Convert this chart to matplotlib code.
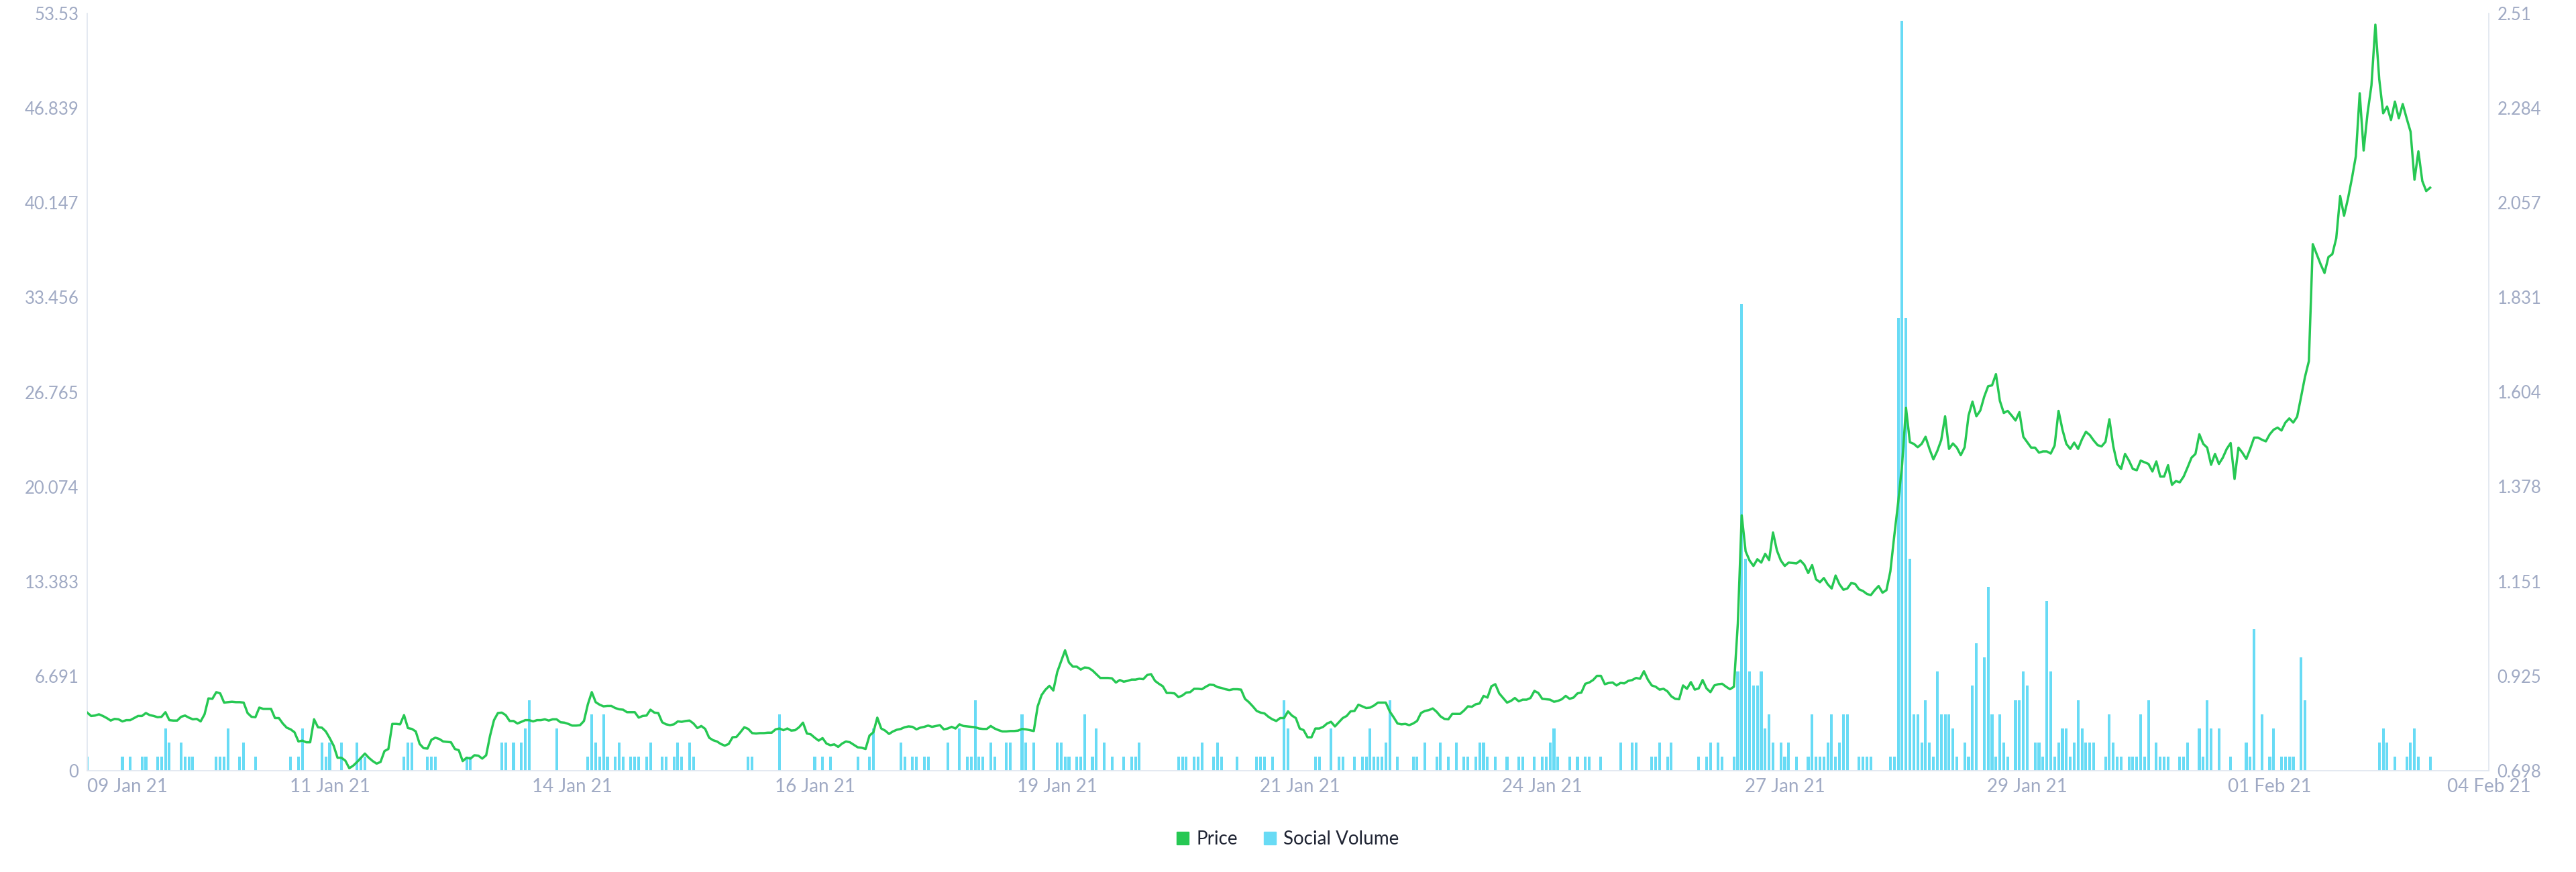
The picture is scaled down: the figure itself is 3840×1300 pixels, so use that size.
import matplotlib
matplotlib.use('Agg')
import matplotlib.pyplot as plt
import matplotlib.transforms as mtransforms
from matplotlib.patches import Patch
import numpy as np

# hourly price, starting 09 Jan 21 00:00
price = [
    0.837, 0.829, 0.830, 0.833, 0.829, 0.824, 0.818, 0.822, 0.821, 0.816, 0.819, 0.819, 0.824, 0.829, 0.829, 0.836, 0.831, 0.829, 0.826, 0.827,
    0.838, 0.819, 0.818, 0.818, 0.827, 0.830, 0.825, 0.821, 0.822, 0.816, 0.833, 0.871, 0.870, 0.886, 0.883, 0.861, 0.862, 0.863, 0.862, 0.862,
    0.861, 0.836, 0.827, 0.826, 0.849, 0.846, 0.846, 0.846, 0.824, 0.824, 0.811, 0.801, 0.797, 0.790, 0.768, 0.770, 0.766, 0.766, 0.821, 0.802,
    0.801, 0.792, 0.776, 0.758, 0.729, 0.729, 0.722, 0.704, 0.710, 0.719, 0.729, 0.739, 0.729, 0.721, 0.715, 0.719, 0.745, 0.750, 0.810, 0.810,
    0.809, 0.831, 0.800, 0.798, 0.792, 0.762, 0.752, 0.751, 0.772, 0.777, 0.774, 0.768, 0.767, 0.766, 0.750, 0.747, 0.721, 0.729, 0.727, 0.735,
    0.734, 0.727, 0.735, 0.782, 0.819, 0.836, 0.837, 0.831, 0.817, 0.817, 0.811, 0.815, 0.819, 0.819, 0.816, 0.819, 0.819, 0.821, 0.818, 0.821,
    0.821, 0.814, 0.813, 0.810, 0.806, 0.806, 0.807, 0.817, 0.857, 0.886, 0.862, 0.856, 0.852, 0.853, 0.853, 0.848, 0.845, 0.844, 0.838, 0.838,
    0.838, 0.825, 0.829, 0.830, 0.844, 0.837, 0.836, 0.814, 0.809, 0.807, 0.809, 0.816, 0.815, 0.817, 0.818, 0.811, 0.800, 0.805, 0.798, 0.777,
    0.771, 0.768, 0.762, 0.758, 0.762, 0.778, 0.779, 0.790, 0.802, 0.798, 0.788, 0.787, 0.788, 0.788, 0.789, 0.789, 0.797, 0.799, 0.795, 0.799,
    0.794, 0.795, 0.802, 0.813, 0.787, 0.785, 0.777, 0.770, 0.776, 0.763, 0.759, 0.761, 0.755, 0.763, 0.768, 0.766, 0.760, 0.754, 0.753, 0.750,
    0.782, 0.790, 0.825, 0.799, 0.794, 0.786, 0.792, 0.796, 0.798, 0.802, 0.804, 0.803, 0.797, 0.801, 0.803, 0.806, 0.803, 0.805, 0.807, 0.797,
    0.799, 0.803, 0.799, 0.809, 0.805, 0.804, 0.803, 0.802, 0.799, 0.798, 0.798, 0.805, 0.799, 0.795, 0.792, 0.792, 0.793, 0.793, 0.794, 0.798,
    0.797, 0.795, 0.793, 0.852, 0.879, 0.892, 0.901, 0.890, 0.934, 0.960, 0.986, 0.957, 0.947, 0.947, 0.940, 0.945, 0.944, 0.938, 0.929, 0.920,
    0.920, 0.920, 0.919, 0.909, 0.915, 0.911, 0.913, 0.916, 0.916, 0.918, 0.917, 0.927, 0.929, 0.913, 0.906, 0.900, 0.884, 0.884, 0.883, 0.874,
    0.878, 0.885, 0.886, 0.894, 0.894, 0.893, 0.899, 0.904, 0.903, 0.898, 0.896, 0.893, 0.891, 0.893, 0.893, 0.892, 0.870, 0.862, 0.852, 0.841,
    0.837, 0.835, 0.827, 0.821, 0.817, 0.824, 0.824, 0.840, 0.830, 0.824, 0.799, 0.795, 0.778, 0.778, 0.799, 0.799, 0.803, 0.811, 0.815, 0.804,
    0.814, 0.824, 0.829, 0.840, 0.841, 0.856, 0.852, 0.848, 0.849, 0.854, 0.861, 0.861, 0.861, 0.840, 0.826, 0.811, 0.809, 0.810, 0.807, 0.811,
    0.817, 0.836, 0.841, 0.843, 0.847, 0.839, 0.828, 0.822, 0.821, 0.834, 0.834, 0.834, 0.842, 0.852, 0.851, 0.857, 0.859, 0.877, 0.873, 0.900,
    0.905, 0.883, 0.872, 0.861, 0.865, 0.872, 0.864, 0.868, 0.868, 0.872, 0.889, 0.884, 0.870, 0.869, 0.868, 0.863, 0.865, 0.869, 0.877, 0.870,
    0.873, 0.883, 0.885, 0.906, 0.909, 0.915, 0.925, 0.925, 0.905, 0.908, 0.909, 0.902, 0.908, 0.907, 0.913, 0.915, 0.920, 0.918, 0.936, 0.916,
    0.902, 0.899, 0.892, 0.894, 0.888, 0.876, 0.870, 0.869, 0.902, 0.894, 0.910, 0.892, 0.895, 0.915, 0.895, 0.886, 0.902, 0.905, 0.906, 0.899,
    0.893, 0.899, 1.050, 1.309, 1.223, 1.201, 1.188, 1.204, 1.196, 1.217, 1.202, 1.268, 1.225, 1.201, 1.188, 1.196, 1.195, 1.194, 1.201, 1.191,
    1.171, 1.190, 1.156, 1.149, 1.159, 1.144, 1.134, 1.165, 1.144, 1.131, 1.134, 1.147, 1.145, 1.132, 1.128, 1.121, 1.118, 1.130, 1.140, 1.124,
    1.130, 1.175, 1.260, 1.340, 1.430, 1.566, 1.484, 1.480, 1.472, 1.480, 1.497, 1.468, 1.443, 1.463, 1.489, 1.546, 1.468, 1.481, 1.471, 1.453,
    1.472, 1.548, 1.581, 1.546, 1.560, 1.593, 1.618, 1.620, 1.647, 1.583, 1.554, 1.559, 1.548, 1.536, 1.556, 1.497, 1.484, 1.471, 1.471, 1.459,
    1.462, 1.462, 1.457, 1.476, 1.559, 1.514, 1.480, 1.468, 1.483, 1.468, 1.491, 1.509, 1.501, 1.488, 1.477, 1.474, 1.485, 1.539, 1.474, 1.432,
    1.420, 1.456, 1.440, 1.420, 1.417, 1.440, 1.436, 1.432, 1.414, 1.438, 1.402, 1.402, 1.429, 1.382, 1.391, 1.388, 1.402, 1.424, 1.447, 1.456,
    1.503, 1.480, 1.471, 1.430, 1.456, 1.432, 1.447, 1.468, 1.482, 1.396, 1.471, 1.459, 1.444, 1.468, 1.495, 1.495, 1.490, 1.486, 1.503, 1.514,
    1.519, 1.512, 1.531, 1.541, 1.531, 1.545, 1.592, 1.640, 1.678, 1.958, 1.934, 1.910, 1.889, 1.927, 1.934, 1.972, 2.073, 2.026, 2.067, 2.115,
    2.168, 2.319, 2.182, 2.271, 2.338, 2.483, 2.352, 2.271, 2.287, 2.255, 2.299, 2.259, 2.293, 2.259, 2.227, 2.112, 2.180, 2.109, 2.085, 2.093,
]

# social volume, only the hours with a non-zero count
volume_hours = [
    0, 9, 11, 14, 15, 18, 19, 20, 21, 24, 25, 26, 27, 33, 34, 35, 36, 39, 40, 43, 52, 54, 55, 60, 61, 62, 65, 69, 70, 71,
    81, 82, 83, 87, 88, 89, 97, 98, 106, 107, 109, 111, 112, 113, 120, 128, 129, 130, 131, 132, 133, 135, 136, 137, 139,
    140, 141, 143, 144, 147, 148, 150, 151, 152, 154, 155, 169, 170, 177, 186, 188, 190, 197, 200, 201, 208, 209, 211, 212,
    214, 215, 220, 223, 225, 226, 227, 228, 229, 231, 232, 235, 236, 239, 240, 242, 248, 249, 250, 251, 253, 254, 255, 257,
    258, 260, 262, 265, 267, 268, 269, 279, 280, 281, 283, 284, 285, 288, 289, 290, 294, 299, 300, 301, 303, 306, 307, 314,
    315, 318, 320, 321, 324, 326, 327, 328, 329, 330, 331, 332, 333, 335, 339, 340, 342, 345, 346, 348, 350, 352, 353, 355,
    356, 357, 358, 360, 363, 366, 367, 370, 372, 373, 374, 375, 376, 379, 381, 383, 384, 387, 392, 395, 396, 400, 401, 402,
    404, 405, 412, 414, 415, 417, 418, 421, 422, 423, 424, 425, 426, 427, 428, 429, 430, 431, 433, 434, 435, 437, 440, 441,
    442, 443, 444, 445, 446, 447, 448, 449, 450, 453, 454, 455, 456, 461, 462, 463, 464, 465, 466, 467, 468, 469, 470, 471,
    472, 473, 474, 475, 476, 477, 478, 480, 481, 482, 483, 485, 486, 487, 488, 489, 490, 491, 493, 494, 495, 496, 498, 499,
    500, 501, 502, 503, 504, 505, 506, 507, 508, 509, 510, 511, 512, 513, 516, 517, 518, 519, 520, 522, 523, 524, 525, 526,
    527, 529, 530, 531, 532, 535, 536, 537, 540, 541, 542, 543, 545, 548, 552, 553, 554, 556, 558, 559, 561, 562, 563, 564,
    566, 567, 586, 587, 588, 590, 593, 594, 595, 596, 599,
]
volume = [
    1, 1, 1, 1, 1, 1, 1, 3, 2, 2, 1, 1, 1, 1, 1, 1, 3, 1, 2, 1, 1, 1, 3, 2, 1, 2, 2, 2, 1, 1,
    1, 2, 2, 1, 1, 1, 1, 1, 2, 2, 2, 2, 3, 5, 3, 1, 4, 2, 1, 4, 1, 1, 2, 1, 1,
    1, 1, 1, 2, 1, 1, 1, 2, 1, 2, 1, 1, 1, 4, 1, 1, 1, 1, 1, 3, 2, 1, 1, 1,
    1, 1, 2, 3, 1, 1, 5, 1, 1, 2, 1, 2, 2, 4, 2, 2, 2, 2, 1, 1, 1, 1, 4, 1,
    3, 2, 1, 1, 1, 1, 2, 1, 1, 1, 1, 1, 2, 1, 2, 1, 1, 1, 1, 1, 1, 5, 3, 1,
    1, 3, 1, 1, 1, 1, 1, 3, 1, 1, 1, 2, 5, 1, 1, 1, 2, 1, 2, 1, 2, 1, 1, 1,
    2, 2, 1, 1, 1, 1, 1, 1, 1, 1, 2, 3, 1, 1, 1, 1, 1, 1, 2, 2, 2, 1, 1, 2,
    1, 2, 1, 1, 2, 2, 1, 1, 7, 33, 15, 7, 6, 6, 7, 3, 4, 2, 2, 1, 2, 1, 1, 4,
    1, 1, 1, 2, 4, 1, 2, 4, 4, 1, 1, 1, 1, 1, 1, 32, 53, 32, 15, 4, 4, 2, 5, 2,
    1, 7, 4, 4, 4, 3, 1, 2, 1, 6, 9, 8, 13, 4, 1, 4, 2, 1, 5, 5, 7, 6, 2, 2,
    1, 12, 7, 1, 2, 3, 3, 1, 2, 5, 3, 2, 2, 2, 1, 4, 2, 1, 1, 1, 1, 1, 4, 1,
    5, 2, 1, 1, 1, 1, 1, 2, 3, 1, 5, 3, 3, 1, 2, 1, 10, 4, 1, 3, 1, 1, 1, 1,
    8, 5, 2, 3, 2, 1, 1, 2, 3, 1, 1,
]

volume_ticks = [0, 6.691, 13.383, 20.074, 26.765, 33.456, 40.147, 46.839, 53.53]
volume_labels = ['0', '6.691', '13.383', '20.074', '26.765', '33.456', '40.147', '46.839', '53.53']
price_ticks = [0.698, 0.925, 1.151, 1.378, 1.604, 1.831, 2.057, 2.284, 2.51]
price_labels = ['0.698', '0.925', '1.151', '1.378', '1.604', '1.831', '2.057', '2.284', '2.51']
date_labels = ['09 Jan 21', '11 Jan 21', '14 Jan 21', '16 Jan 21', '19 Jan 21', '21 Jan 21',
               '24 Jan 21', '27 Jan 21', '29 Jan 21', '01 Feb 21', '04 Feb 21']

GREEN = '#26C853'
CYAN = '#68DBF5'
TICK = '#A0AAC4'
AXIS = '#E2E7F0'

plt.rcParams['font.family'] = ['Lato', 'DejaVu Sans']

fig = plt.figure(figsize=(38.4, 13), dpi=100)
ax = fig.add_axes([130 / 3840, 151 / 1300, 3580 / 3840, 1129 / 1300])
ax2 = ax.twinx()

hours = np.arange(len(price))
ax.bar(volume_hours, volume, width=0.7, color=CYAN, zorder=2)
ax2.plot(hours, price, color=GREEN, lw=2.5, zorder=3)

ax.set_xlim(0, 614)
ax.set_ylim(0, 53.53)
ax2.set_ylim(0.698, 2.51)

ax.set_yticks(volume_ticks, volume_labels)
ax2.set_yticks(price_ticks, price_labels)
tick_pos = [62 * k for k in range(10)] + [614]
ax.set_xticks(tick_pos, date_labels)
labels = ax.get_xticklabels()
labels[0].set_horizontalalignment('left')
labels[0].set_transform(labels[0].get_transform()
                        + mtransforms.ScaledTranslation(10 / 100, 0, fig.dpi_scale_trans))

ax.tick_params(axis='both', length=0, colors=TICK)
ax.tick_params(axis='x', labelsize=20, pad=8)
ax.tick_params(axis='y', labelsize=18.5, pad=9)
ax2.tick_params(axis='y', length=0, colors=TICK, labelsize=18.5, pad=9)

for a in (ax, ax2):
    a.spines['top'].set_visible(False)
    for s in ('left', 'right', 'bottom'):
        a.spines[s].set_color(AXIS)
        a.spines[s].set_linewidth(1.3)
ax.spines['right'].set_visible(False)
ax2.spines['left'].set_visible(False)
ax2.spines['bottom'].set_visible(False)

handles = [Patch(color=GREEN), Patch(color=CYAN)]
fig.legend(handles, ['Price', 'Social Volume'], loc='center', bbox_to_anchor=(0.5, 0.0377),
           ncol=2, frameon=False, fontsize=20, handlelength=0.65, handleheight=0.65,
           handletextpad=0.4, columnspacing=1.4, labelcolor='#1F2433')

fig.savefig('out.png', dpi=100)
